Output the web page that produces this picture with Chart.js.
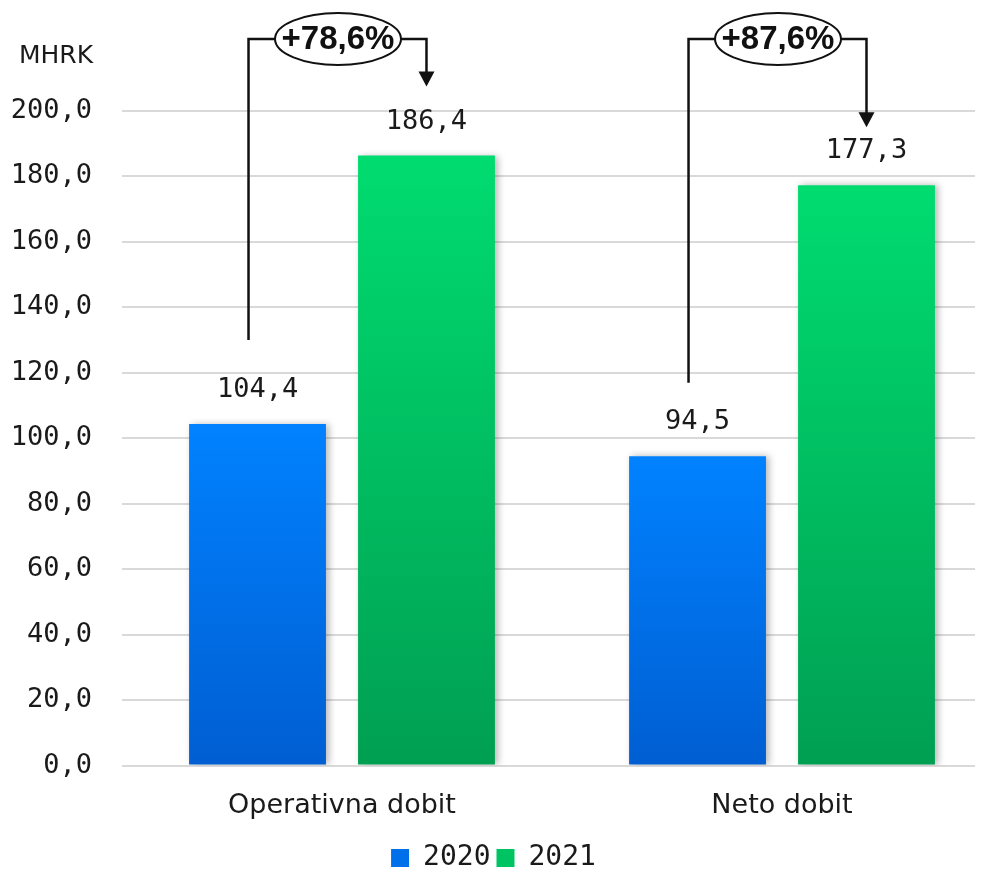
<!DOCTYPE html>
<html>
<head>
<meta charset="utf-8">
<script src="https://cdn.jsdelivr.net/npm/chart.js@4.4.0/dist/chart.umd.min.js"></script>
<style>
  html, body { margin: 0; padding: 0; background: #fff; }
</style>
</head>
<body>
<canvas id="myChart" width="991" height="882"></canvas>
<script>
const categories = ["Operativna dobit", "Neto dobit"];
const years = ["2020", "2021"];
const values2020 = [104.4, 94.5];
const values2021 = [186.4, 177.3];
const unitLabel = "MHRK";

// growth brackets above each group
const growthLabels = ["+78,6%", "+87,6%"];
const bracketStart = [130, 117];   // value where the left leg starts
const arrowTip = [207.5, 195];     // value where the arrow ends
const bracketTop = 222;            // value of the horizontal line

const TEXT = "#1a1a1a";
const MONO = "'DejaVu Sans Mono', monospace";
const SANS = "'DejaVu Sans', sans-serif";

const fmt = (v) => v.toFixed(1).replace(".", ",");

const blueColors = ["#0182ff", "#005ed2"];
const greenColors = ["#00dc70", "#009f52"];

function barGradient(colors) {
  return (ctx) => {
    const chart = ctx.chart;
    if (!chart.chartArea || ctx.dataIndex === undefined) return colors[0];
    const y = chart.scales.y;
    const v = ctx.dataset.data[ctx.dataIndex];
    const top = y.getPixelForValue(typeof v === "object" ? v.y : v);
    const bottom = y.getPixelForValue(0);
    const g = chart.ctx.createLinearGradient(0, top, 0, bottom);
    g.addColorStop(0, colors[0]);
    g.addColorStop(1, colors[1]);
    return g;
  };
}

const toPoints = (arr) => arr.map((v, i) => ({ x: i, y: v }));

const extras = {
  id: "extras",
  beforeDatasetsDraw(chart) {
    const c = chart.ctx;
    c.save();
    c.shadowColor = "rgba(0,0,0,0.28)";
    c.shadowBlur = 7;
    c.shadowOffsetX = 3;
    c.shadowOffsetY = 0;
  },
  afterDatasetsDraw(chart) {
    const c = chart.ctx;
    c.restore();
    const y = chart.scales.y;

    // value labels
    c.save();
    c.fillStyle = TEXT;
    c.font = "27px " + MONO;
    c.textAlign = "center";
    c.textBaseline = "middle";
    chart.data.datasets.forEach((ds, di) => {
      chart.getDatasetMeta(di).data.forEach((bar, i) => {
        c.fillText(fmt(ds.data[i].y), bar.x, bar.y - 34);
      });
    });

    // unit label
    c.font = "25px " + SANS;
    c.textAlign = "left";
    c.fillText(unitLabel, 19, 56);

    // growth brackets
    const m0 = chart.getDatasetMeta(0).data;
    const m1 = chart.getDatasetMeta(1).data;
    const yTop = y.getPixelForValue(bracketTop);
    c.strokeStyle = "#111";
    c.fillStyle = "#111";
    c.lineWidth = 2.5;
    growthLabels.forEach((lbl, i) => {
      const xl = m0[i].x - 9;
      const xr = m1[i].x;
      const cx = (m0[i].x + m1[i].x) / 2 - 4;
      const rx = 63, ry = 26;
      const y0 = y.getPixelForValue(bracketStart[i]);
      const yTip = y.getPixelForValue(arrowTip[i]);

      c.beginPath();
      c.moveTo(xl, y0);
      c.lineTo(xl, yTop);
      c.lineTo(cx - rx, yTop);
      c.moveTo(cx + rx, yTop);
      c.lineTo(xr, yTop);
      c.lineTo(xr, yTip - 14);
      c.stroke();

      c.beginPath();
      c.moveTo(xr - 8, yTip - 15);
      c.lineTo(xr + 8, yTip - 15);
      c.lineTo(xr, yTip);
      c.closePath();
      c.fill();

      c.beginPath();
      c.lineWidth = 2;
      c.ellipse(cx, yTop, rx, ry, 0, 0, Math.PI * 2);
      c.fillStyle = "#fff";
      c.fill();
      c.stroke();
      c.lineWidth = 2.5;

      c.fillStyle = "#111";
      c.font = "bold 33px 'Liberation Sans', sans-serif";
      c.textAlign = "center";
      c.textBaseline = "middle";
      c.fillText(lbl, cx, yTop + 1);
    });
    c.restore();
  },
};

new Chart(document.getElementById("myChart"), {
  type: "bar",
  data: {
    datasets: [
      {
        label: years[0],
        data: toPoints(values2020),
        backgroundColor: barGradient(blueColors),
        borderWidth: 0,
      },
      {
        label: years[1],
        data: toPoints(values2021),
        backgroundColor: barGradient(greenColors),
        borderWidth: 0,
      },
    ],
  },
  options: {
    responsive: false,
    animation: false,
    categoryPercentage: 0.768,
    barPercentage: 0.81,
    layout: { padding: { top: 111, left: 12, right: 16, bottom: 0 } },
    scales: {
      x: {
        type: "linear",
        offset: false,
        min: -0.5,
        max: 1.4386,
        afterBuildTicks: (scale) => {
          scale.ticks = categories.map((_, i) => ({ value: i }));
        },
        ticks: {
          callback: (v) => categories[v],
          font: { family: SANS, size: 27 },
          color: TEXT,
          padding: 16,
          maxRotation: 0,
        },
        grid: { display: false },
        border: { display: false },
      },
      y: {
        min: 0,
        max: 200,
        afterFit: (scale) => {
          scale.width = 110;
        },
        ticks: {
          stepSize: 20,
          callback: (v) => fmt(v),
          font: { family: MONO, size: 27 },
          color: TEXT,
          padding: 30,
        },
        grid: { color: "#d9d9d9", lineWidth: 2, drawTicks: false },
        border: { display: false },
      },
    },
    plugins: {
      tooltip: { enabled: false },
      legend: {
        position: "bottom",
        labels: {
          font: { family: MONO, size: 28 },
          color: TEXT,
          boxWidth: 18,
          boxHeight: 18,
          padding: 6,
          generateLabels: (chart) =>
            years.map((yr, i) => ({
              text: yr,
              fillStyle: i === 0 ? "#0070ea" : "#00c462",
              strokeStyle: "transparent",
              lineWidth: 0,
              datasetIndex: i,
              fontColor: TEXT,
            })),
        },
      },
    },
  },
  plugins: [extras],
});
</script>
</body>
</html>
